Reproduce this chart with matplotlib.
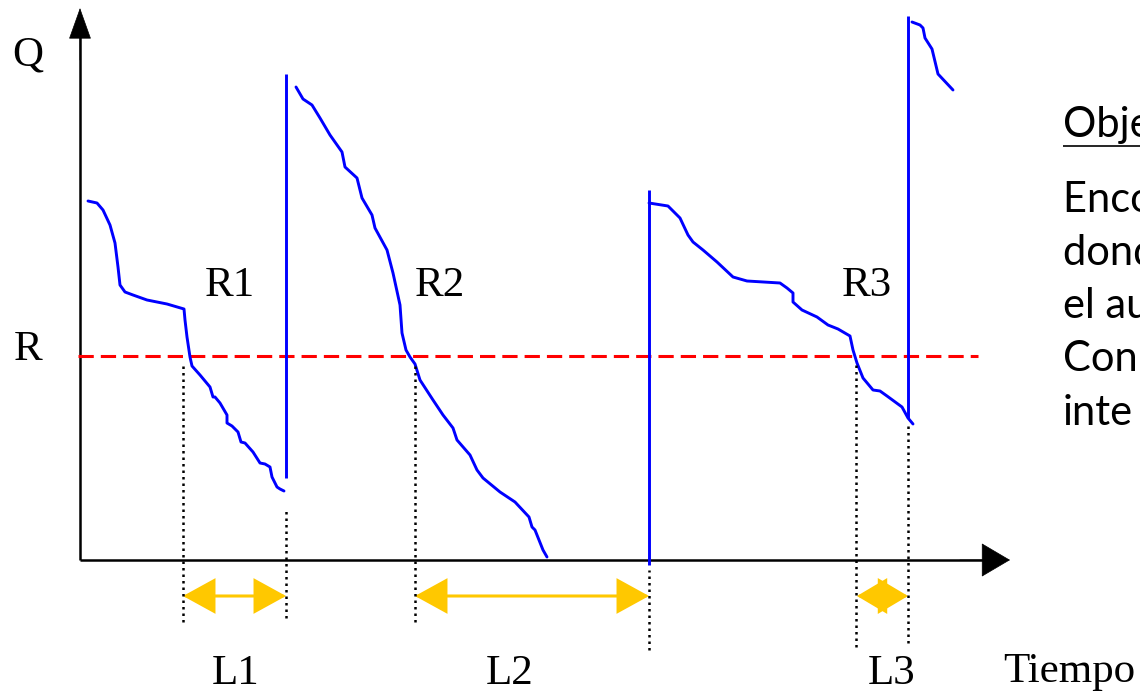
import matplotlib
matplotlib.use("Agg")
import matplotlib.pyplot as plt
from matplotlib.patches import FancyArrowPatch

# time (t) and stock level (Q), origin at the axes corner
seg1_t = [8, 17, 23, 30, 35, 38, 40, 45, 53, 67, 87, 104, 105, 107, 110, 112, 120, 130, 133, 135,
          140, 147, 147, 152, 158, 161, 165, 173, 180, 185, 190, 192, 197, 200, 204]
seg1_q = [359, 357, 350, 335, 317, 293, 275, 268, 265, 260, 256, 251, 240, 223, 203, 194, 185, 173, 163, 163,
          157, 145, 137, 134, 128, 118, 117, 108, 97, 96, 93, 83, 73, 71, 69]

seg2_t = [216, 223, 232, 240, 250, 262, 265, 277, 282, 292, 295, 307, 313, 320, 322, 326, 330, 335,
          340, 353, 363, 373, 377, 390, 397, 403, 420, 435, 449, 452, 455, 463, 467]
seg2_q = [473, 461, 455, 442, 425, 408, 393, 382, 362, 345, 332, 310, 287, 255, 227, 210, 203, 196,
          180, 160, 145, 132, 120, 105, 90, 82, 68, 58, 43, 33, 30, 10, 3]

seg3_t = [569, 588, 600, 608, 613, 623, 637, 653, 667, 700, 707, 713, 713, 722, 737, 748, 758, 770,
          773, 777, 783, 793, 800, 807, 822, 828, 833]
seg3_q = [357, 354, 342, 325, 318, 310, 298, 283, 279, 277, 272, 267, 258, 250, 243, 235, 231, 224,
          210, 197, 182, 170, 169, 164, 153, 142, 136]

seg4_t = [832, 840, 843, 845, 852, 858, 873]
seg4_q = [538, 535, 532, 522, 511, 486, 470]

# order arrivals: time, bottom, top
arrival_t = [206, 569, 828]
arrival_lo = [82, -5, 142]
arrival_hi = [486, 370, 544]

R_level = 204
reorder_t = [103, 335, 777]
lead_end_t = [206, 569, 828]
reorder_labels = ["R1", "R2", "R3"]
lead_labels = ["L1", "L2", "L3"]

# dotted guides: time, top, bottom
guide_t = [103, 206, 335, 569, 776, 828]
guide_top = [198, 52, 198, -10, 197, 137]
guide_bot = [-62, -58, -62, -90, -87, -83]

side_lines = ["Objetivo:", "Encontrar R", "donde ocurre", "el aumento", "Con la demanda", "inte"]
side_q = [423, 348, 295, 242, 189, 135]

plt.rcParams["lines.solid_capstyle"] = "butt"
fig = plt.figure(figsize=(11.4, 6.92), dpi=100)
ax = fig.add_axes([0, 0, 1, 1])
ax.set_xlim(-80, 1060)
ax.set_ylim(-132, 560)
ax.axis("off")

blue = "#0000FF"
gold = "#FFC800"
serif = "Liberation Serif"

# axes with arrowheads
ax.plot([0, 0], [0, 525], color="black", lw=1.8)
ax.plot([0, 905], [0, 0], color="black", lw=1.8)
ax.add_patch(FancyArrowPatch((0, 500), (0, 552), arrowstyle="-|>,head_length=21,head_width=7.5",
                             mutation_scale=1, color="black", lw=0.5, shrinkA=0, shrinkB=0))
ax.add_patch(FancyArrowPatch((880, 0), (930, 0), arrowstyle="-|>,head_length=19.5,head_width=11.5",
                             mutation_scale=1, color="black", lw=0.5, shrinkA=0, shrinkB=0))

# reorder level
ax.plot([-2, 898], [R_level, R_level], color="#FF0000", lw=2.2, linestyle=(0, (5, 2.3)))

# inventory curves
for ts, qs in [(seg1_t, seg1_q), (seg2_t, seg2_q), (seg3_t, seg3_q), (seg4_t, seg4_q)]:
    ax.plot(ts, qs, color=blue, lw=2.1, solid_joinstyle="round", solid_capstyle="round")
for t, lo, hi in zip(arrival_t, arrival_lo, arrival_hi):
    ax.plot([t, t], [lo, hi], color=blue, lw=2.1)

# dotted guides
for t, top, bot in zip(guide_t, guide_top, guide_bot):
    ax.plot([t, t], [bot, top], color="black", lw=1.8, linestyle=(0, (1, 1.6)))

# lead time arrows
label_shift = [1.5, -22, 9]
for t0, t1, lab, dx in zip(reorder_t, lead_end_t, lead_labels, label_shift):
    hl = 20 if (t1 - t0) > 60 else 18.5
    ax.add_patch(FancyArrowPatch((t0, -36), (t1, -36),
                                 arrowstyle=f"<|-|>,head_length={hl},head_width=11",
                                 mutation_scale=1, color=gold, lw=2.2, shrinkA=0, shrinkB=0,
                                 joinstyle="miter"))
    ax.text((t0 + t1) / 2 + dx, -124, lab, fontsize=31, family=serif, ha="center", va="baseline")

r_shift = [22, 0, -15]
for t, lab, dx in zip(reorder_t, reorder_labels, r_shift):
    ax.text(t + dx, 264, lab, fontsize=31, family=serif, ha="left", va="baseline")

ax.text(-52, 495, "Q", fontsize=31, family=serif, ha="center", va="baseline")
ax.text(-52, 200, "R", fontsize=31, family=serif, ha="center", va="baseline")
ax.text(989, -122, "Tiempo", fontsize=31, family=serif, ha="center", va="baseline")

# side note, cut by the figure edge
for line, q in zip(side_lines, side_q):
    ax.text(983, q, line, fontsize=30, family="Lato", ha="left", va="baseline", clip_on=False)
ax.plot([983, 1060], [414, 414], color="black", lw=1.2, clip_on=False)

fig.savefig("out.png", dpi=100)
